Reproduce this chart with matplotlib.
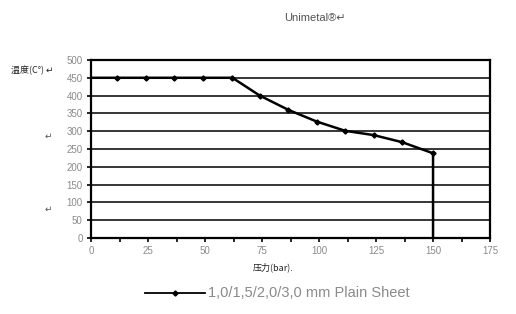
import matplotlib
matplotlib.use("Agg")
import matplotlib.pyplot as plt
import numpy as np

plt.rcParams['font.family'] = ['Noto Sans CJK SC', 'DejaVu Sans']
LATIN = ["Liberation Sans", "DejaVu Sans"]

# pressure (bar) vs temperature (C)
pressure = [0, 11.5, 24, 36.5, 49, 62, 74, 86.5, 99, 111.5, 124, 136.5, 150, 150]
temperature = [450, 450, 450, 450, 450, 450, 400, 360, 327, 301, 289, 269, 238, 0]
series_label = "1,0/1,5/2,0/3,0 mm Plain Sheet"
x_ticks = [0, 25, 50, 75, 100, 125, 150, 175]
y_ticks = list(range(0, 501, 50))

fig = plt.figure(figsize=(5.16, 3.14), dpi=100)
ax = fig.add_axes([0.1764, 0.242, 0.7733, 0.567])

n_pts = len(pressure)
ax.plot(pressure, temperature, color="black", lw=1.8,
        marker="D", ms=2.6, markevery=list(range(1, n_pts - 1)), zorder=3)

ax.set_xlim(0, 175)
ax.set_ylim(0, 500)
ax.set_xticks(x_ticks)
ax.set_xticks(np.arange(0, 176, 12.5), minor=True)
ax.set_yticks(y_ticks)
ax.yaxis.grid(True, color="black", lw=1.1)
ax.set_axisbelow(True)
for s in ax.spines.values():
    s.set_linewidth(1.6)
    s.set_color("black")
ax.tick_params(which="both", direction="out", length=3, width=1.2, colors="black",
               labelcolor="#8a8a8a", labelsize=7, pad=3)
ax.tick_params(which="minor", length=3)
for lab in ax.get_xticklabels() + ax.get_yticklabels():
    lab.set_family(LATIN)

fig.text(0.61, 0.943, "Unimetal®↵", fontsize=8, color="#555555", family=LATIN,
         ha="center", va="center")
fig.text(0.022, 0.777, "温度(C°) ↵", fontsize=6.5, color="#222222", ha="left", va="center")
fig.text(0.093, 0.567, "↵", fontsize=6.5, color="#555555", ha="center", va="center")
fig.text(0.093, 0.334, "↵", fontsize=6.5, color="#555555", ha="center", va="center")
fig.text(0.49, 0.147, "压力(bar).", fontsize=6.5, color="#222222", ha="left", va="center")

# legend drawn by hand beneath the axes
lx = [0.281, 0.397]
fig.lines.append(plt.Line2D(lx, [0.067, 0.067], transform=fig.transFigure,
                            color="black", lw=1.3))
fig.lines.append(plt.Line2D([0.339], [0.067], transform=fig.transFigure,
                            color="black", marker="D", ms=2.6, lw=0))
fig.text(0.403, 0.067, series_label, fontsize=10.5, color="#8a8a8a",
         family=LATIN, ha="left", va="center")

fig.savefig("out.png", dpi=100)
